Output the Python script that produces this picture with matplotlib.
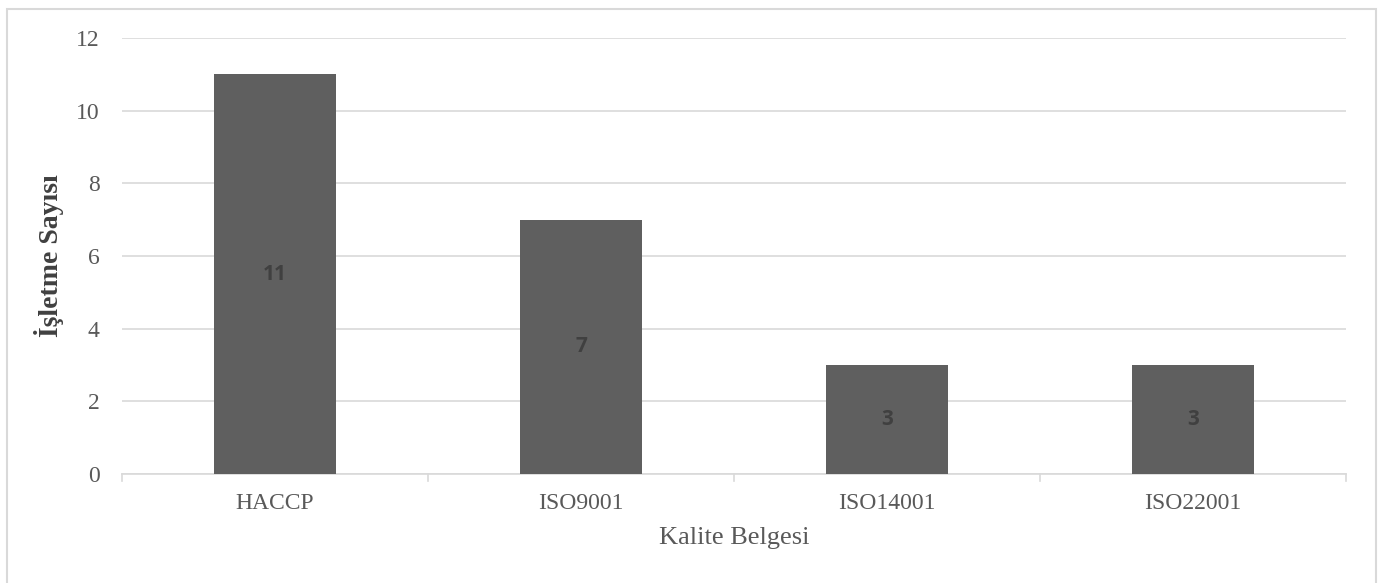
import matplotlib.pyplot as plt
from matplotlib.patches import Rectangle

categories = ["HACCP", "ISO9001", "ISO14001", "ISO22001"]
counts = [11, 7, 3, 3]
yticks = [0, 2, 4, 6, 8, 10, 12]

W, H = 1383, 583
fig = plt.figure(figsize=(W / 100, H / 100), dpi=100)
fig.patch.set_facecolor("white")

# outer chart frame
fig.add_artist(Rectangle((7 / W, -0.05), (1376 - 7) / W, 1.05 - 9 / H,
                         transform=fig.transFigure, fill=False,
                         edgecolor="#d9d9d9", linewidth=1.5))

left, right = 122 / W, 1346 / W
bottom, top = 1 - 474 / H, 1 - 38 / H
ax = fig.add_axes([left, bottom, right - left, top - bottom])

serif = "Liberation Serif"
x = range(len(categories))
bars = ax.bar(x, counts, width=0.4, color="#5f5f5f", zorder=3)

for xi, v in zip(x, counts):
    ax.text(xi, v / 2, str(v), ha="center", va="center",
            fontsize=15, fontweight="bold", color="#404040",
            family="Open Sans", zorder=4)

ax.set_xlim(-0.5, len(categories) - 0.5)
ax.set_ylim(0, 12)
ax.set_yticks(yticks)
ax.set_yticklabels([str(t) for t in yticks], family=serif, fontsize=17, color="#595959")
ax.set_xticks(list(x))
ax.set_xticklabels(categories, family=serif, fontsize=17, color="#595959")

ax.grid(axis="y", color="#d9d9d9", linewidth=1.2, zorder=0)
for s in ["top", "right", "left"]:
    ax.spines[s].set_visible(False)
ax.spines["bottom"].set_color("#d9d9d9")
ax.spines["bottom"].set_linewidth(1.2)

# category-boundary tick marks on the x axis
ax.tick_params(axis="x", length=0, pad=14)
ax.tick_params(axis="y", length=0, pad=16)
for b in [i - 0.5 for i in range(len(categories) + 1)]:
    ax.plot([b, b], [0, -0.2], color="#d9d9d9", linewidth=1.2,
            clip_on=False, transform=ax.transData)

ax.set_xlabel("Kalite Belgesi", family=serif, fontsize=19, color="#595959", labelpad=9)
ax.set_ylabel("İşletme Sayısı", family=serif, fontsize=20, fontweight="bold",
              color="#404040", labelpad=9)

fig.savefig("out.png", dpi=100)
